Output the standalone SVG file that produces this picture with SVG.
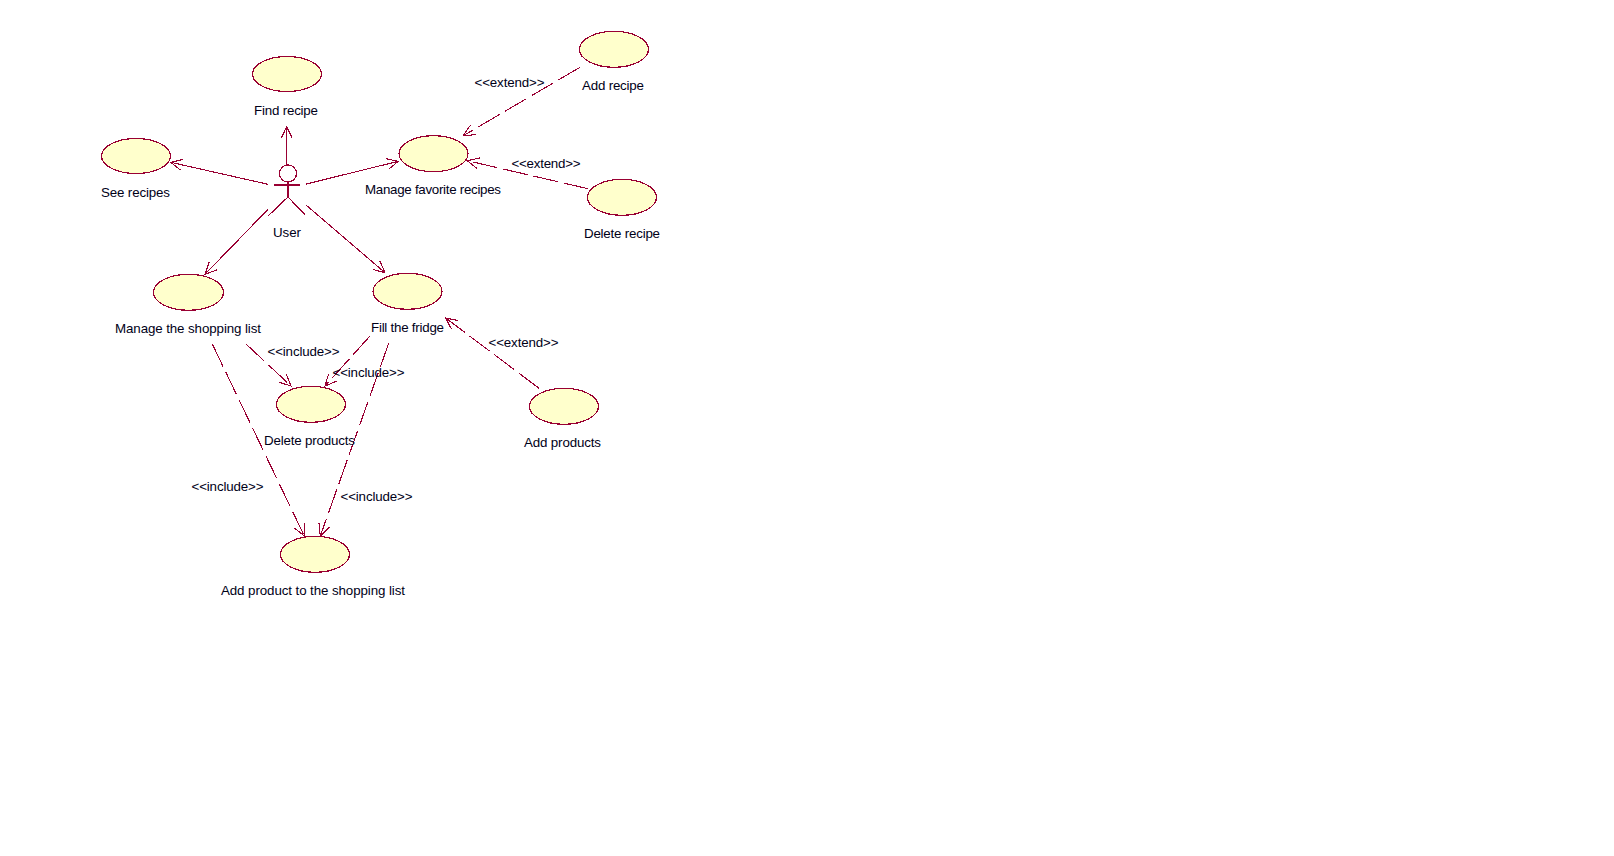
<svg xmlns="http://www.w3.org/2000/svg" width="1614" height="856" viewBox="0 0 1614 856">
<style>
text{font-family:"Liberation Sans",Arial,sans-serif;font-size:13.33px;fill:#000018}
.uc{fill:#FFFFCC;stroke:#990033;stroke-width:1.2;shape-rendering:crispEdges}
.a{fill:none;stroke:#990033;stroke-width:1.2;shape-rendering:crispEdges}
.c{fill:none;stroke:#990033;stroke-width:1.1;marker-end:url(#open);shape-rendering:crispEdges}
.d{stroke-dasharray:25 6}
</style>
<defs>
<marker id="open" markerUnits="userSpaceOnUse" markerWidth="16" markerHeight="16" refX="13" refY="7" orient="auto">
<path d="M1.5,1.5L13,7L1.5,12.5" fill="none" stroke="#990033" stroke-width="1.1" shape-rendering="crispEdges"/>
</marker>
</defs>
<rect width="1614" height="856" fill="#fff"/>
<g id="connectors">
<path class="c" d="M286.7,164.7L286.7,126.7"/>
<path class="c" d="M268,184.3L170.7,162.3"/>
<path class="c" d="M306.3,184L398.3,161.3"/>
<path class="c" d="M268,209.3L205,274.3"/>
<path class="c" d="M306.3,205.3L385,272.7"/>
<path class="c d" d="M580,67.3L463.3,135.7"/>
<path class="c d" d="M588,188.7L467.3,160.7"/>
<path class="c d" d="M246,344L291,386"/>
<path class="c d" d="M370,336L325,386"/>
<path class="c d" d="M212.3,344L304.3,536"/>
<path class="c d" d="M388.7,343.3L320.3,536"/>
<path class="c d" d="M539,388.3L445.7,318"/>
<text x="474.5" y="87" textLength="70">&lt;&lt;extend&gt;&gt;</text>
<text x="511.5" y="168" textLength="69">&lt;&lt;extend&gt;&gt;</text>
<text x="488.5" y="347" textLength="70">&lt;&lt;extend&gt;&gt;</text>
<text x="267.5" y="356" textLength="72">&lt;&lt;include&gt;&gt;</text>
<text x="332.5" y="377" textLength="72">&lt;&lt;include&gt;&gt;</text>
<text x="191.5" y="491" textLength="72">&lt;&lt;include&gt;&gt;</text>
<text x="340.5" y="501" textLength="72">&lt;&lt;include&gt;&gt;</text>
</g>
<g id="user">
<circle class="a" cx="288" cy="173.5" r="8.5"/>
<path class="a" d="M273.5,185H300M288,182V197M268.5,215.5L288,197L305,214.5"/>
<text x="273" y="237" textLength="28">User</text>
</g>
<g id="find-recipe"><ellipse class="uc" cx="287" cy="74" rx="34.5" ry="17.5"/><text x="254" y="115" textLength="64">Find recipe</text></g>
<g id="see-recipes"><ellipse class="uc" cx="136" cy="156" rx="34.5" ry="17.5"/><text x="101" y="197" textLength="69">See recipes</text></g>
<g id="manage-favorite-recipes"><ellipse class="uc" cx="433.5" cy="153.7" rx="34.5" ry="18"/><text x="365" y="194" textLength="136">Manage favorite recipes</text></g>
<g id="add-recipe"><ellipse class="uc" cx="614" cy="49.3" rx="34.5" ry="18"/><text x="582" y="90" textLength="62">Add recipe</text></g>
<g id="delete-recipe"><ellipse class="uc" cx="622" cy="197.3" rx="34.5" ry="18"/><text x="584" y="238" textLength="76">Delete recipe</text></g>
<g id="manage-shopping-list"><ellipse class="uc" cx="188.5" cy="292.3" rx="35" ry="18"/><text x="115" y="333" textLength="146">Manage the shopping list</text></g>
<g id="fill-fridge"><ellipse class="uc" cx="407.5" cy="291.3" rx="34.5" ry="18"/><text x="371" y="332" textLength="73">Fill the fridge</text></g>
<g id="delete-products"><ellipse class="uc" cx="311" cy="404.3" rx="34.5" ry="18"/><text x="264" y="445" textLength="91">Delete products</text></g>
<g id="add-products"><ellipse class="uc" cx="564" cy="406.3" rx="34.5" ry="18"/><text x="524" y="447" textLength="77">Add products</text></g>
<g id="add-product-to-list"><ellipse class="uc" cx="315" cy="554.3" rx="34.5" ry="18"/><text x="221" y="595" textLength="184">Add product to the shopping list</text></g>
</svg>
